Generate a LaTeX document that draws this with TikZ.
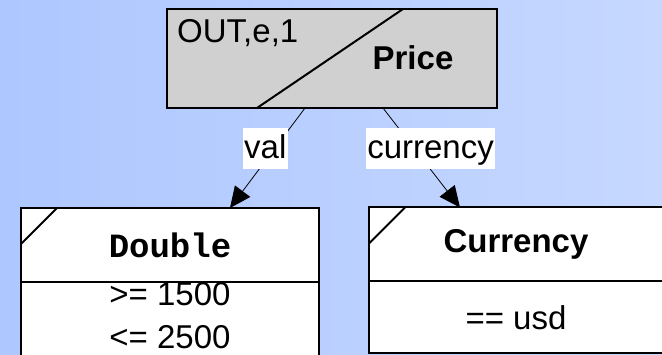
\documentclass[tikz,border=0pt]{standalone}
\usepackage{fontspec}
\setmainfont{Liberation Sans}
\setmonofont{Liberation Mono}
\usetikzlibrary{positioning,calc,arrows.meta}

\definecolor{bgleft}{RGB}{174,199,255}
\definecolor{bgright}{RGB}{198,216,255}
\definecolor{headgray}{RGB}{208,208,208}

\tikzset{
  box/.style={draw, line width=2pt, outer sep=0pt, inner sep=0pt},
  headbox/.style={box, fill=headgray, minimum width=330pt, minimum height=99pt},
  typebox/.style={box, fill=white, minimum height=74pt},
  condbox/.style={box, fill=white, align=center},
  big/.style={font=\fontsize{33}{43}\selectfont},
  link/.style={line width=0.8pt, -{Triangle[length=21pt,width=19pt]}},
  lbl/.style={big, fill=white, inner xsep=1.5pt, inner ysep=3pt, text height=27pt, text depth=8pt, pos=0.41},
}

\begin{document}
\begin{tikzpicture}[x=1pt,y=-1pt]
  % background
  \useasboundingbox (0,0) rectangle (662,355);
  \clip (0,0) rectangle (662,355);
  \shade[left color=bgleft, right color=bgright] (0,0) rectangle (662,355);

  % Price
  \node[headbox] (price) at (332,58.5) {};
  \draw[line width=2pt] ($(price.north west)+(236,0)$) -- ($(price.south west)+(90,0)$);
  \node[big, anchor=base west, inner sep=0pt] (pricetag) at ($(price.north west)+(10,34)$) {OUT,e,1};
  \node[big, anchor=base, inner sep=0pt] (pricename) at ($(price.north west)+(246,61)$) {\bfseries Price};

  % Double
  \node[typebox, minimum width=298pt, big] (double) at (170,245) {\fontsize{34}{40}\selectfont\ttfamily\bfseries Double};
  \node[condbox, minimum width=298pt, minimum height=80pt, big, text height=67pt, text depth=13pt, below=0pt of double] (doublecond) {>= 1500\\<= 2500};
  \draw[line width=2pt] ($(double.north west)+(36,0)$) -- ($(double.north west)+(0,36)$);

  % Currency
  \node[typebox, minimum width=294pt, big] (currency) at (516,244.5) {\bfseries Currency};
  \node[condbox, minimum width=294pt, minimum height=72pt, big, below=0pt of currency] (currencycond) {== usd};
  \draw[line width=2pt] ($(currency.north west)+(36,0)$) -- ($(currency.north west)+(0,36)$);

  % links
  \draw[link] ([xshift=-27pt]price.south) -- node[lbl, xshift=-9pt] (vallbl) {val} ([xshift=60pt]double.north);
  \draw[link] ([xshift=51pt]price.south) -- node[lbl, xshift=16pt] (curlbl) {currency} ([xshift=-56pt]currency.north);
\end{tikzpicture}
\end{document}
